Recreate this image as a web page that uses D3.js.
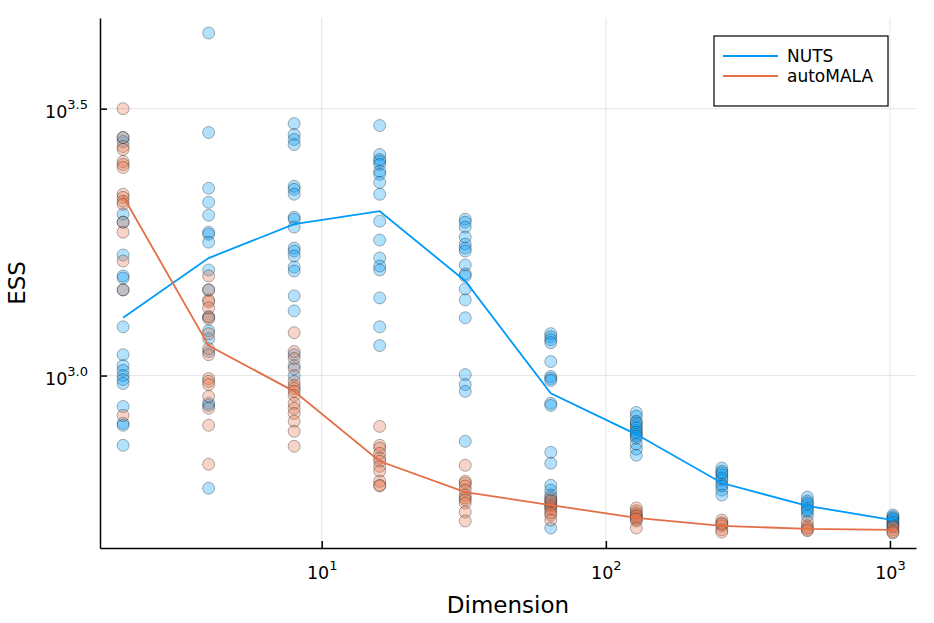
<!DOCTYPE html>
<html>
<head>
<meta charset="utf-8">
<script src="https://cdn.jsdelivr.net/npm/d3@7"></script>
<style>
body { margin: 0; background: #fff; }
text { font-family: "DejaVu Sans", sans-serif; }
</style>
</head>
<body>
<script>
// dimensions on the x axis
var dims = [2, 4, 8, 16, 32, 64, 128, 256, 512, 1024];

// ESS of every replicate, one list per dimension
var nutsESS = [
    [2792, 2744, 2006, 1938, 1682, 1537, 1523, 1447, 1234, 1094, 1044, 1022, 1000, 983, 966, 875, 814, 807, 740],
    [4383, 2853, 2243, 2112, 1997, 1856, 1840, 1778, 1577, 1447, 1288, 1213, 1172, 1109, 887, 879, 615],
    [2965, 2828, 2768, 2709, 2262, 2233, 2186, 1980, 1963, 1897, 1733, 1711, 1675, 1597, 1570, 1410, 1322, 1094, 1044, 1000],
    [2940, 2595, 2540, 2518, 2486, 2413, 2382, 2301, 2186, 1946, 1794, 1660, 1604, 1577, 1398, 1234, 1138],
    [1963, 1938, 1897, 1817, 1763, 1733, 1711, 1611, 1550, 1537, 1453, 1386, 1283, 1004, 962, 934, 753],
    [1198, 1182, 1167, 1152, 1062, 996, 987, 979, 887, 879, 718, 685, 623, 610, 597, 585, 572, 518],
    [853, 839, 821, 807, 790, 776, 763, 744, 728, 709, 815, 798, 783, 770],
    [671, 662, 651, 637, 626, 610, 597, 643, 621, 657],
    [592, 582, 572, 565, 555, 546, 577, 560],
    [548, 541, 534, 525, 544, 538, 530]
];
var automalaESS = [
    [3162, 2792, 2686, 2652, 2518, 2486, 2454, 2186, 2157, 2121, 2094, 1938, 1856, 1639, 1447, 842],
    [1537, 1447, 1386, 1374, 1339, 1288, 1277, 1198, 1123, 1094, 987, 975, 962, 914, 868, 807, 682],
    [1203, 1109, 1076, 1030, 975, 958, 946, 934, 918, 887, 868, 849, 821, 786, 737],
    [803, 740, 731, 715, 700, 691, 676, 662, 634, 623, 621],
    [679, 634, 629, 621, 610, 597, 590, 585, 577, 555, 534],
    [590, 577, 570, 565, 560, 548, 536, 582, 553],
    [565, 558, 548, 541, 534, 518, 552, 545, 538],
    [536, 530, 523, 514, 509, 527],
    [532, 523, 514, 512, 518],
    [523, 514, 507, 520, 510]
];

// mean lines
var nutsMean = [1283, 1660, 1921, 2032, 1504, 926, 776, 629, 570, 536];
var automalaMean = [2167, 1138, 934, 691, 605, 572, 541, 523, 516, 514];

var seriesNames = ["NUTS", "autoMALA"];
var colors = ["#009AFA", "#E36F47"];

// ticks: value and exponent label
var xTicks = [10, 100, 1000];
var xExp = ["1", "2", "3"];
var yTicks = [1000, Math.pow(10, 3.5)];
var yExp = ["3.0", "3.5"];

var margin = {top: 18, right: 18, bottom: 75, left: 100};
var width = 934 - margin.left - margin.right;
var height = 623 - margin.top - margin.bottom;

// widen a log extent by 3% on each side
function widen(ext) {
    var a = Math.log10(ext[0]), b = Math.log10(ext[1]);
    var p = 0.03 * (b - a);
    return [Math.pow(10, a - p), Math.pow(10, b + p)];
}

var allValues = d3.merge(nutsESS.concat(automalaESS));

var xScale = d3.scaleLog().domain(widen(d3.extent(dims))).range([0, width]);
var yScale = d3.scaleLog().domain(widen(d3.extent(allValues))).range([height, 0]);

var svg = d3.select("body")
    .append("svg")
    .attr("width", 934)
    .attr("height", 623);

svg.append("rect").attr("width", 934).attr("height", 623).attr("fill", "#fff");

var g = svg.append("g")
    .attr("transform", "translate(" + margin.left + "," + margin.top + ")");

// grid
g.selectAll(".xgrid").data(xTicks).enter().append("line")
    .attr("x1", function(d) { return xScale(d); })
    .attr("x2", function(d) { return xScale(d); })
    .attr("y1", 0).attr("y2", height)
    .attr("stroke", "#000").attr("stroke-opacity", 0.1).attr("stroke-width", 1);
g.selectAll(".ygrid").data(yTicks).enter().append("line")
    .attr("y1", function(d) { return yScale(d); })
    .attr("y2", function(d) { return yScale(d); })
    .attr("x1", 0).attr("x2", width)
    .attr("stroke", "#000").attr("stroke-opacity", 0.1).attr("stroke-width", 1);

// scatter points
function flatten(list) {
    var out = [];
    list.forEach(function(vals, i) {
        vals.forEach(function(v) { out.push([dims[i], v]); });
    });
    return out;
}

[nutsESS, automalaESS].forEach(function(series, k) {
    g.append("g").selectAll("circle")
        .data(flatten(series))
        .enter()
        .append("circle")
        .attr("cx", function(d) { return xScale(d[0]); })
        .attr("cy", function(d) { return yScale(d[1]); })
        .attr("r", 6)
        .attr("fill", colors[k])
        .attr("fill-opacity", 0.3)
        .attr("stroke", "#000")
        .attr("stroke-opacity", 0.3)
        .attr("stroke-width", 1);
});

// mean lines
var line = d3.line()
    .x(function(d, i) { return xScale(dims[i]); })
    .y(function(d) { return yScale(d); });

[nutsMean, automalaMean].forEach(function(series, k) {
    g.append("path")
        .datum(series)
        .attr("d", line)
        .attr("fill", "none")
        .attr("stroke", colors[k])
        .attr("stroke-width", 1.8);
});

// axes
var xAxis = d3.axisBottom(xScale).tickValues(xTicks).tickSizeInner(-7).tickSizeOuter(0);
var xAxisGroup = g.append("g")
    .attr("transform", "translate(0," + height + ")")
    .call(xAxis);
xAxisGroup.select(".domain").attr("stroke-width", 1.5);
xAxisGroup.selectAll(".tick line").attr("stroke-width", 1.5);
xAxisGroup.selectAll(".tick text")
    .attr("y", 31).attr("dy", null)
    .attr("font-size", 17.5).attr("fill", "#000")
    .attr("font-family", "DejaVu Sans")
    .text("10")
    .append("tspan")
    .attr("dy", -9).attr("font-size", 13)
    .text(function(d) { return xExp[xTicks.indexOf(d)]; });

var yAxis = d3.axisLeft(yScale).tickValues(yTicks).tickSizeInner(-7).tickSizeOuter(0);
var yAxisGroup = g.append("g").call(yAxis);
yAxisGroup.select(".domain").attr("stroke-width", 1.5);
yAxisGroup.selectAll(".tick line").attr("stroke-width", 1.5);
yAxisGroup.selectAll(".tick text")
    .attr("x", -12).attr("y", 9).attr("dy", null)
    .attr("font-size", 17.5).attr("fill", "#000")
    .attr("font-family", "DejaVu Sans")
    .text("10")
    .append("tspan")
    .attr("dy", -9).attr("font-size", 13)
    .text(function(d, i) { return yExp[i]; });

// axis titles
svg.append("text")
    .attr("x", margin.left + width / 2)
    .attr("y", 613)
    .attr("text-anchor", "middle")
    .attr("font-size", 23)
    .text("Dimension");
svg.append("text")
    .attr("transform", "translate(25," + (margin.top + height / 2) + ") rotate(-90)")
    .attr("text-anchor", "middle")
    .attr("font-size", 23)
    .text("ESS");

// legend
var legend = svg.append("g").attr("transform", "translate(714,36)");
legend.append("rect")
    .attr("width", 174).attr("height", 70)
    .attr("fill", "#fff").attr("stroke", "#000").attr("stroke-width", 1.2);
seriesNames.forEach(function(name, k) {
    legend.append("line")
        .attr("x1", 9).attr("x2", 64)
        .attr("y1", 20 + k * 20).attr("y2", 20 + k * 20)
        .attr("stroke", colors[k]).attr("stroke-width", 2);
    legend.append("text")
        .attr("x", 73).attr("y", 26 + k * 20)
        .attr("font-size", 17)
        .text(name);
});
</script>
</body>
</html>
